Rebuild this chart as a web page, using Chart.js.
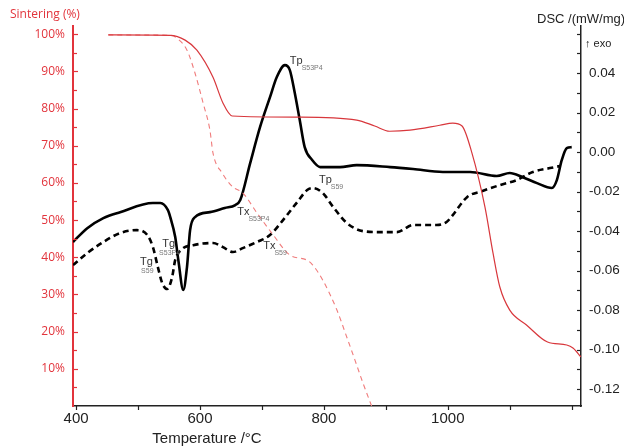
<!DOCTYPE html>
<html>
<head>
<meta charset="utf-8">
<script src="https://cdn.jsdelivr.net/npm/chart.js@4"></script>
<style>
  html, body { margin: 0; padding: 0; background: #fff; }
  #wrap { width: 624px; height: 448px; }
</style>
</head>
<body>
<div id="wrap"><canvas id="chart" width="624" height="448"></canvas></div>
<script>
// Sintering curves (left axis, %)
const sinterS53P4Temp = [452, 552, 576, 595, 621, 637, 652, 761, 853, 882, 906, 939, 987, 1008, 1023, 1039, 1060, 1073, 1084, 1100, 1127, 1161, 1192, 1202, 1215];
const sinterS53P4Pct  = [99.8, 99.7, 98.4, 95.7, 88.4, 81.5, 78.0, 77.7, 76.9, 75.3, 73.9, 74.2, 75.5, 76.1, 75.3, 68.0, 53.5, 41.1, 32.0, 25.8, 21.8, 17.2, 16.4, 15.6, 13.2];

const sinterS59Temp = [452, 552, 563, 579, 592, 605, 616, 621, 636, 653, 669, 692, 716, 745, 773, 782, 798, 821, 837, 850, 863, 877];
const sinterS59Pct  = [99.8, 99.7, 98.9, 95.7, 89.5, 81.5, 74.2, 68.0, 62.6, 58.9, 57.3, 51.9, 46.5, 40.6, 39.2, 37.9, 33.9, 25.8, 18.5, 12.4, 6.2, 0];

// DSC curves (right axis, mW/mg)
const dscS53P4Temp = [395, 418, 444, 471, 524, 536, 548, 552, 560, 565, 573, 579, 584, 592, 616, 640, 657, 665, 681, 697, 713, 724, 737, 745, 753, 761, 769, 781, 794, 826, 853, 907, 944, 992, 1036, 1079, 1100, 1121, 1144, 1168, 1176, 1184, 1192, 1200];
const dscS53P4Val  = [-0.0455, -0.0385, -0.0334, -0.0304, -0.0258, -0.0258, -0.0293, -0.0329, -0.0430, -0.0546, -0.0698, -0.0582, -0.0395, -0.0329, -0.0304, -0.0283, -0.0268, -0.0243, -0.0056, 0.0127, 0.0278, 0.0380, 0.0440, 0.0415, 0.0299, 0.0162, 0.0025, -0.0040, -0.0076, -0.0076, -0.0066, -0.0076, -0.0086, -0.0101, -0.0101, -0.0121, -0.0106, -0.0127, -0.0157, -0.0182, -0.0142, -0.0040, 0.0020, 0.0025];

const dscS59Temp = [395, 418, 444, 471, 498, 515, 524, 532, 539, 547, 555, 560, 571, 589, 621, 637, 653, 669, 692, 713, 734, 757, 773, 782, 798, 815, 837, 863, 890, 918, 944, 982, 998, 1008, 1031, 1056, 1084, 1111, 1137, 1165, 1181];
const dscS59Val  = [-0.0572, -0.0511, -0.0455, -0.0410, -0.0395, -0.0420, -0.0481, -0.0582, -0.0663, -0.0693, -0.0633, -0.0546, -0.0491, -0.0471, -0.0460, -0.0481, -0.0506, -0.0486, -0.0455, -0.0420, -0.0344, -0.0253, -0.0192, -0.0182, -0.0207, -0.0278, -0.0359, -0.0400, -0.0405, -0.0405, -0.0369, -0.0369, -0.0354, -0.0319, -0.0228, -0.0197, -0.0167, -0.0142, -0.0101, -0.0081, -0.0071];

// Tick labels and tick marks
const tempTicks = [400, 600, 800, 1000];
const tempMarks = [400, 500, 600, 700, 800, 900, 1000, 1100, 1200];
const sinterTicks = [10, 20, 30, 40, 50, 60, 70, 80, 90, 100];
const sinterMarks = [5, 10, 15, 20, 25, 30, 35, 40, 45, 50, 55, 60, 65, 70, 75, 80, 85, 90, 95, 100];
const dscTicks = [-0.12, -0.10, -0.08, -0.06, -0.04, -0.02, 0.00, 0.02, 0.04];
const dscMarks = [-0.12, -0.11, -0.10, -0.09, -0.08, -0.07, -0.06, -0.05, -0.04, -0.03, -0.02, -0.01, 0.00, 0.01, 0.02, 0.03, 0.04, 0.05, 0.06];

// Peak / transition labels (temperature, DSC value)
const noteMain = ['Tp', 'Tx', 'Tp', 'Tx', 'Tg', 'Tg'];
const noteSub  = ['S53P4', 'S53P4', 'S59', 'S59', 'S53P4', 'S59'];
const noteTemp = [745, 660, 792, 702, 539, 503];
const noteDsc  = [0.0460, -0.0304, -0.0142, -0.0476, -0.0466, -0.0557];

const RED = '#e2343c';
const toXY = (xs, ys) => xs.map((x, i) => ({ x: x, y: ys[i] }));

const decor = {
  id: 'decor',
  afterDraw(chart) {
    const ctx = chart.ctx;
    const { x, y, y2 } = chart.scales;
    const area = chart.chartArea;
    ctx.save();

    // tick marks
    ctx.lineWidth = 1.2;
    ctx.strokeStyle = RED;
    sinterMarks.forEach(v => {
      const py = Math.round(y.getPixelForValue(v)) + 0.5;
      const len = v % 10 === 0 ? 5 : 4;
      ctx.beginPath();
      ctx.moveTo(area.left, py);
      ctx.lineTo(area.left + len, py);
      ctx.stroke();
    });
    ctx.strokeStyle = '#222';
    dscMarks.forEach(v => {
      const py = Math.round(y2.getPixelForValue(v)) + 0.5;
      ctx.beginPath();
      ctx.moveTo(area.right, py);
      ctx.lineTo(area.right - 4, py);
      ctx.stroke();
    });
    tempMarks.forEach(v => {
      const px = Math.round(x.getPixelForValue(v)) + 0.5;
      ctx.beginPath();
      ctx.moveTo(px, area.bottom);
      ctx.lineTo(px, area.bottom + 4);
      ctx.stroke();
    });

    // axis titles
    ctx.textBaseline = 'middle';
    ctx.textAlign = 'left';
    ctx.fillStyle = RED;
    ctx.font = '12px "Open Sans"';
    ctx.fillText('Sintering (%)', 10, 15);
    ctx.fillStyle = '#222';
    ctx.font = '13px "Liberation Sans"';
    ctx.fillText('DSC /(mW/mg)', 537, 19);
    ctx.font = '11px "Liberation Sans"';
    ctx.fillText('\u2191 exo', 585, 44);
    ctx.font = '15px "Liberation Sans"';
    ctx.textAlign = 'center';
    ctx.fillText('Temperature /\u00b0C', 207, 439);

    // annotations
    noteMain.forEach((m, i) => {
      const px = x.getPixelForValue(noteTemp[i]);
      const py = y2.getPixelForValue(noteDsc[i]);
      ctx.textAlign = 'left';
      ctx.fillStyle = '#333';
      ctx.font = '11px "Liberation Sans"';
      ctx.fillText(m, px, py);
      const w = ctx.measureText(m).width;
      ctx.fillStyle = '#777';
      ctx.font = '7px "Liberation Sans"';
      if (m === 'Tg') {
        ctx.textAlign = 'center';
        ctx.fillText(noteSub[i], px + w / 2 + 1, py + 9);
      } else {
        ctx.fillText(noteSub[i], px + w - 1, py + 7);
      }
    });
    ctx.restore();
  }
};

new Chart(document.getElementById('chart'), {
  type: 'line',
  data: {
    datasets: [
      {
        label: 'Sintering S53P4',
        data: toXY(sinterS53P4Temp, sinterS53P4Pct),
        yAxisID: 'y',
        borderColor: '#d8373c',
        borderWidth: 1.2
      },
      {
        label: 'Sintering S59',
        data: toXY(sinterS59Temp, sinterS59Pct),
        yAxisID: 'y',
        borderColor: '#f07c7c',
        borderWidth: 1.1,
        borderDash: [5, 4]
      },
      {
        label: 'DSC S53P4',
        data: toXY(dscS53P4Temp, dscS53P4Val),
        yAxisID: 'y2',
        borderColor: '#000',
        borderWidth: 2.6
      },
      {
        label: 'DSC S59',
        data: toXY(dscS59Temp, dscS59Val),
        yAxisID: 'y2',
        borderColor: '#000',
        borderWidth: 2.6,
        borderDash: [6, 4]
      }
    ]
  },
  options: {
    responsive: false,
    animation: false,
    devicePixelRatio: 1,
    layout: { padding: { top: 26, left: 0, right: 0, bottom: 0 } },
    elements: {
      point: { radius: 0 },
      line: { cubicInterpolationMode: 'monotone', fill: false }
    },
    plugins: {
      legend: { display: false },
      tooltip: { enabled: false }
    },
    scales: {
      x: {
        type: 'linear',
        min: 395,
        max: 1215,
        grid: { display: false, drawTicks: false },
        border: { display: true, color: '#222', width: 1.5 },
        afterBuildTicks: s => { s.ticks = tempTicks.map(v => ({ value: v })); },
        afterFit: s => { s.height = 42; },
        ticks: {
          padding: 4,
          color: '#222',
          font: { family: 'Liberation Sans', size: 15 },
          maxRotation: 0,
          callback: v => String(v)
        }
      },
      y: {
        type: 'linear',
        position: 'left',
        min: 0,
        max: 102.2,
        grid: { display: false, drawTicks: false },
        border: { display: true, color: RED, width: 2 },
        afterBuildTicks: s => { s.ticks = sinterTicks.map(v => ({ value: v })); },
        afterFit: s => { s.width = 73; },
        ticks: {
          padding: 8,
          color: RED,
          font: { family: 'Open Sans', size: 12 },
          callback: v => v + '%'
        }
      },
      y2: {
        type: 'linear',
        position: 'right',
        min: -0.1285,
        max: 0.0638,
        grid: { display: false, drawTicks: false },
        border: { display: true, color: '#222', width: 1.5 },
        afterBuildTicks: s => { s.ticks = dscTicks.map(v => ({ value: v })); },
        afterFit: s => { s.width = 43; },
        ticks: {
          padding: 8,
          color: '#222',
          font: { family: 'Liberation Sans', size: 13.5 },
          callback: v => v.toFixed(2)
        }
      }
    }
  },
  plugins: [decor]
});
</script>
</body>
</html>
